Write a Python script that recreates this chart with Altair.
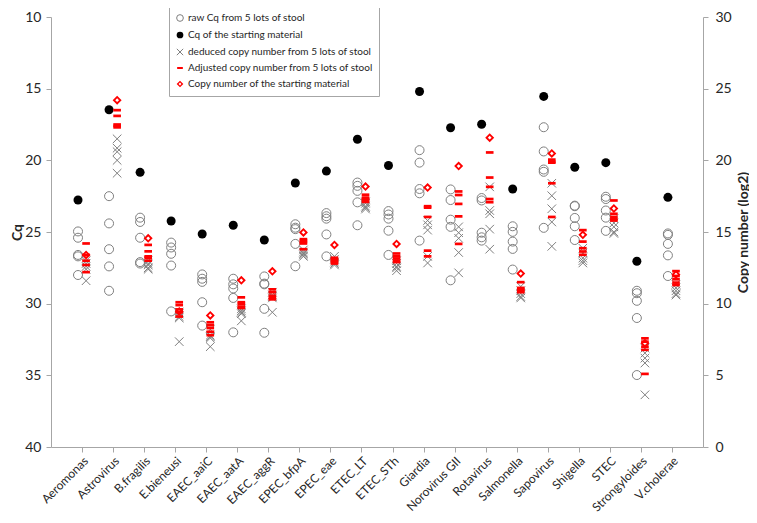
import altair as alt
import pandas as pd

categories = ["Aeromonas", "Astrovirus", "B.fragilis", "E.bieneusi", "EAEC_aaiC",
              "EAEC_aatA", "EAEC_aggR", "EPEC_bfpA", "EPEC_eae", "ETEC_LT",
              "ETEC_STh", "Giardia", "Norovirus GII", "Rotavirus", "Salmonella",
              "Sapovirus", "Shigella", "STEC", "Strongyloides", "V.cholerae"]

series_names = ["raw Cq from 5 lots of stool",
                "Cq of the starting material",
                "deduced copy number from 5 lots of stool",
                "Adjusted copy number from 5 lots of stool",
                "Copy number of the starting material"]

raw_cq = [
    [24.96, 25.4, 26.6, 26.7, 28.0],
    [22.5, 24.4, 26.2, 27.4, 29.1],
    [24.0, 24.3, 25.4, 27.1, 27.2],
    [25.74, 26.08, 26.52, 27.34, 30.54],
    [27.96, 28.26, 28.48, 29.9, 31.53],
    [28.26, 28.65, 28.94, 29.6, 32.0],
    [28.1, 28.6, 28.65, 30.36, 32.03],
    [24.46, 24.7, 24.8, 25.83, 27.39],
    [23.68, 23.9, 24.07, 25.17, 26.7],
    [21.55, 21.78, 22.13, 22.93, 24.53],
    [23.54, 23.78, 24.07, 24.91, 26.6],
    [19.29, 20.16, 22.0, 22.3, 25.6],
    [22.03, 22.77, 24.14, 24.64, 28.37],
    [22.63, 22.8, 25.05, 25.37, 25.6],
    [24.6, 24.99, 25.67, 26.18, 27.62],
    [17.69, 19.38, 20.64, 20.8, 24.71],
    [23.16, 23.2, 24.02, 24.6, 25.56],
    [22.54, 22.7, 23.5, 24.0, 24.92],
    [29.1, 29.27, 29.8, 31.0, 34.98],
    [25.1, 25.2, 25.83, 26.63, 28.07],
]
start_cq = [22.77, 16.47, 20.84, 24.23, 25.14, 24.53, 25.56, 21.58, 20.75, 18.53,
            20.36, 15.2, 17.73, 17.48, 22.0, 15.54, 20.48, 20.16, 27.04, 22.58]

deduced_copy = [
    [13.0, 12.8, 12.6, 12.4, 11.6],
    [21.5, 20.85, 20.6, 20.0, 19.1],
    [13.0, 12.8, 12.7, 12.5, 12.4],
    [9.4, 9.3, 9.1, 9.0, 7.35],
    [8.2, 7.8, 7.7, 7.6, 7.0],
    [9.64, 9.5, 9.4, 9.3, 8.8],
    [10.8, 10.6, 10.5, 10.4, 9.4],
    [13.75, 13.6, 13.5, 13.4, 13.3],
    [13.3, 13.1, 12.9, 12.8, 12.7],
    [17.1, 17.0, 16.8, 16.7, 16.6],
    [13.0, 12.8, 12.6, 12.5, 12.3],
    [15.8, 15.5, 15.13, 13.3, 12.84],
    [15.36, 14.95, 14.56, 13.57, 12.15],
    [18.15, 16.5, 16.27, 15.2, 13.8],
    [11.2, 10.9, 10.7, 10.5, 10.4],
    [18.4, 17.53, 16.62, 15.7, 14.0],
    [13.87, 13.53, 13.18, 13.0, 12.84],
    [15.93, 15.63, 15.36, 15.0, 14.9],
    [6.9, 6.55, 6.2, 5.86, 3.64],
    [11.35, 11.1, 10.9, 10.7, 10.6],
]
adjusted_copy = [
    [14.2, 13.4, 13.0, 12.7, 12.2],
    [23.5, 23.1, 22.5, 22.4, 22.3],
    [14.1, 13.65, 13.3, 13.2, 13.0],
    [10.1, 9.9, 9.6, 9.4, 9.1],
    [8.7, 8.5, 8.3, 8.04, 7.8],
    [10.44, 10.1, 10.0, 9.8, 9.7],
    [11.0, 10.8, 10.55, 10.4, 10.3],
    [14.5, 14.4, 14.3, 14.2, 13.8],
    [13.2, 13.1, 13.0, 12.9, 12.8],
    [17.6, 17.4, 17.3, 17.2, 17.1],
    [13.5, 13.3, 13.15, 13.0, 12.9],
    [16.8, 16.7, 16.05, 13.7, 13.3],
    [17.83, 17.58, 16.96, 16.09, 14.17],
    [20.55, 18.8, 18.15, 17.3, 17.08],
    [11.5, 11.1, 11.0, 10.9, 10.8],
    [20.05, 19.9, 19.84, 18.4, 16.05],
    [15.13, 14.33, 13.87, 13.64, 13.41],
    [17.2, 16.27, 16.05, 15.9, 15.8],
    [7.58, 7.35, 7.0, 6.78, 5.1],
    [12.27, 11.93, 11.7, 11.47, 11.3],
]
start_copy = [13.4, 24.2, 14.56, 9.46, 9.18, 11.63, 12.26, 14.97, 14.1, 18.17,
              14.17, 18.1, 19.6, 21.58, 12.1, 20.48, 14.8, 16.64, 7.24, 12.04]

# ---- build tables ----
OFF = 0.13
rows_cq = []
for i, vals in enumerate(raw_cq):
    for v in vals:
        rows_cq.append({"xpos": i - OFF, "val": v, "series": series_names[0]})
for i, v in enumerate(start_cq):
    rows_cq.append({"xpos": i - OFF, "val": v, "series": series_names[1]})

rows_cp = []
for i, vals in enumerate(deduced_copy):
    for v in vals:
        rows_cp.append({"xpos": i + OFF, "val": v, "series": series_names[2]})
for i, vals in enumerate(adjusted_copy):
    for v in vals:
        rows_cp.append({"xpos": i + OFF, "val": v, "series": series_names[3]})
for i, v in enumerate(start_copy):
    rows_cp.append({"xpos": i + OFF, "val": v, "series": series_names[4]})

df_cq = pd.DataFrame(rows_cq)
df_cp = pd.DataFrame(rows_cp)

FONT = "Lato"
AXIS_GREY = "#a6a6a6"
TEXT = "#262626"
RED = "#ff0000"
GREY = "#7f7f7f"

X_PATH = "M-0.95,-0.95L0.95,0.95M-0.95,0.95L0.95,-0.95"
DASH_PATH = "M-0.85,-0.3H0.85V0.3H-0.85Z"
DIAMOND_RING = "M0,-1L1,0L0,1L-1,0Z M0,-0.42L-0.42,0L0,0.42L0.42,0Z"

legend = alt.Legend(title=None, orient="none", legendX=118, legendY=-10,
                    strokeColor=AXIS_GREY, fillColor="white", padding=6,
                    labelFont=FONT, labelFontSize=10, labelColor=TEXT, labelLimit=400,
                    rowPadding=5, labelOffset=3, symbolSize=45, symbolStrokeWidth=1,
                    symbolOpacity=1)

enc_common = dict(
    shape=alt.Shape("series:N", scale=alt.Scale(domain=series_names,
                    range=["circle", "circle", X_PATH, DASH_PATH, DIAMOND_RING]), legend=legend),
    fill=alt.Fill("series:N", scale=alt.Scale(domain=series_names,
                  range=["transparent", "#000000", "transparent", RED, RED]), legend=legend),
    stroke=alt.Stroke("series:N", scale=alt.Scale(domain=series_names,
                      range=[GREY, "transparent", GREY, "transparent", "transparent"]), legend=legend),
)

label_expr = "[" + ",".join("'" + c + "'" for c in categories) + "][datum.value]"

x_enc = alt.X("xpos:Q",
              scale=alt.Scale(domain=[-1, 20], nice=False, zero=False),
              axis=alt.Axis(values=list(range(len(categories))), labelExpr=label_expr,
                            labelAngle=-45, labelAlign="right", labelBaseline="top",
                            labelFontSize=12, labelPadding=3, title=None,
                            tickSize=5, grid=False, labelOverlap=False))

layer_cq = alt.Chart(df_cq).mark_point(opacity=1, size=81, strokeWidth=1).encode(
    x=x_enc,
    y=alt.Y("val:Q", scale=alt.Scale(domain=[10, 40], reverse=True, nice=False, zero=False),
            axis=alt.Axis(orient="left", values=[10, 15, 20, 25, 30, 35, 40], title="Cq",
                          titleX=-34, titleY=215, titleAngle=270, titleBaseline="middle",
                          titleFontSize=14, titleFontWeight="bold", labelFontSize=14,
                          tickSize=5, labelPadding=5, grid=False)),
    **enc_common
)

layer_cp = alt.Chart(df_cp).mark_point(opacity=1, size=81, strokeWidth=1).encode(
    x=x_enc,
    y=alt.Y("val:Q", scale=alt.Scale(domain=[0, 30], nice=False, zero=False),
            axis=alt.Axis(orient="right", values=[0, 5, 10, 15, 20, 25, 30],
                          title="Copy number (log2)",
                          titleX=40, titleY=215, titleAngle=270, titleBaseline="middle",
                          titleFontSize=14, titleFontWeight="bold", labelFontSize=14,
                          tickSize=5, labelPadding=7, grid=False)),
    **enc_common
)

chart = alt.layer(layer_cq, layer_cp).resolve_scale(y="independent").properties(
    width=652, height=430,
    autosize=alt.AutoSizeParams(type="none"),
    padding={"left": 43, "top": 9, "right": 46, "bottom": 68},
).configure_axis(
    domainColor=AXIS_GREY, tickColor=AXIS_GREY, labelColor=TEXT, titleColor=TEXT,
    labelFont=FONT, titleFont=FONT,
).configure_view(strokeWidth=0)

chart.save("out.html", embed_options={"renderer": "svg", "actions": False})
